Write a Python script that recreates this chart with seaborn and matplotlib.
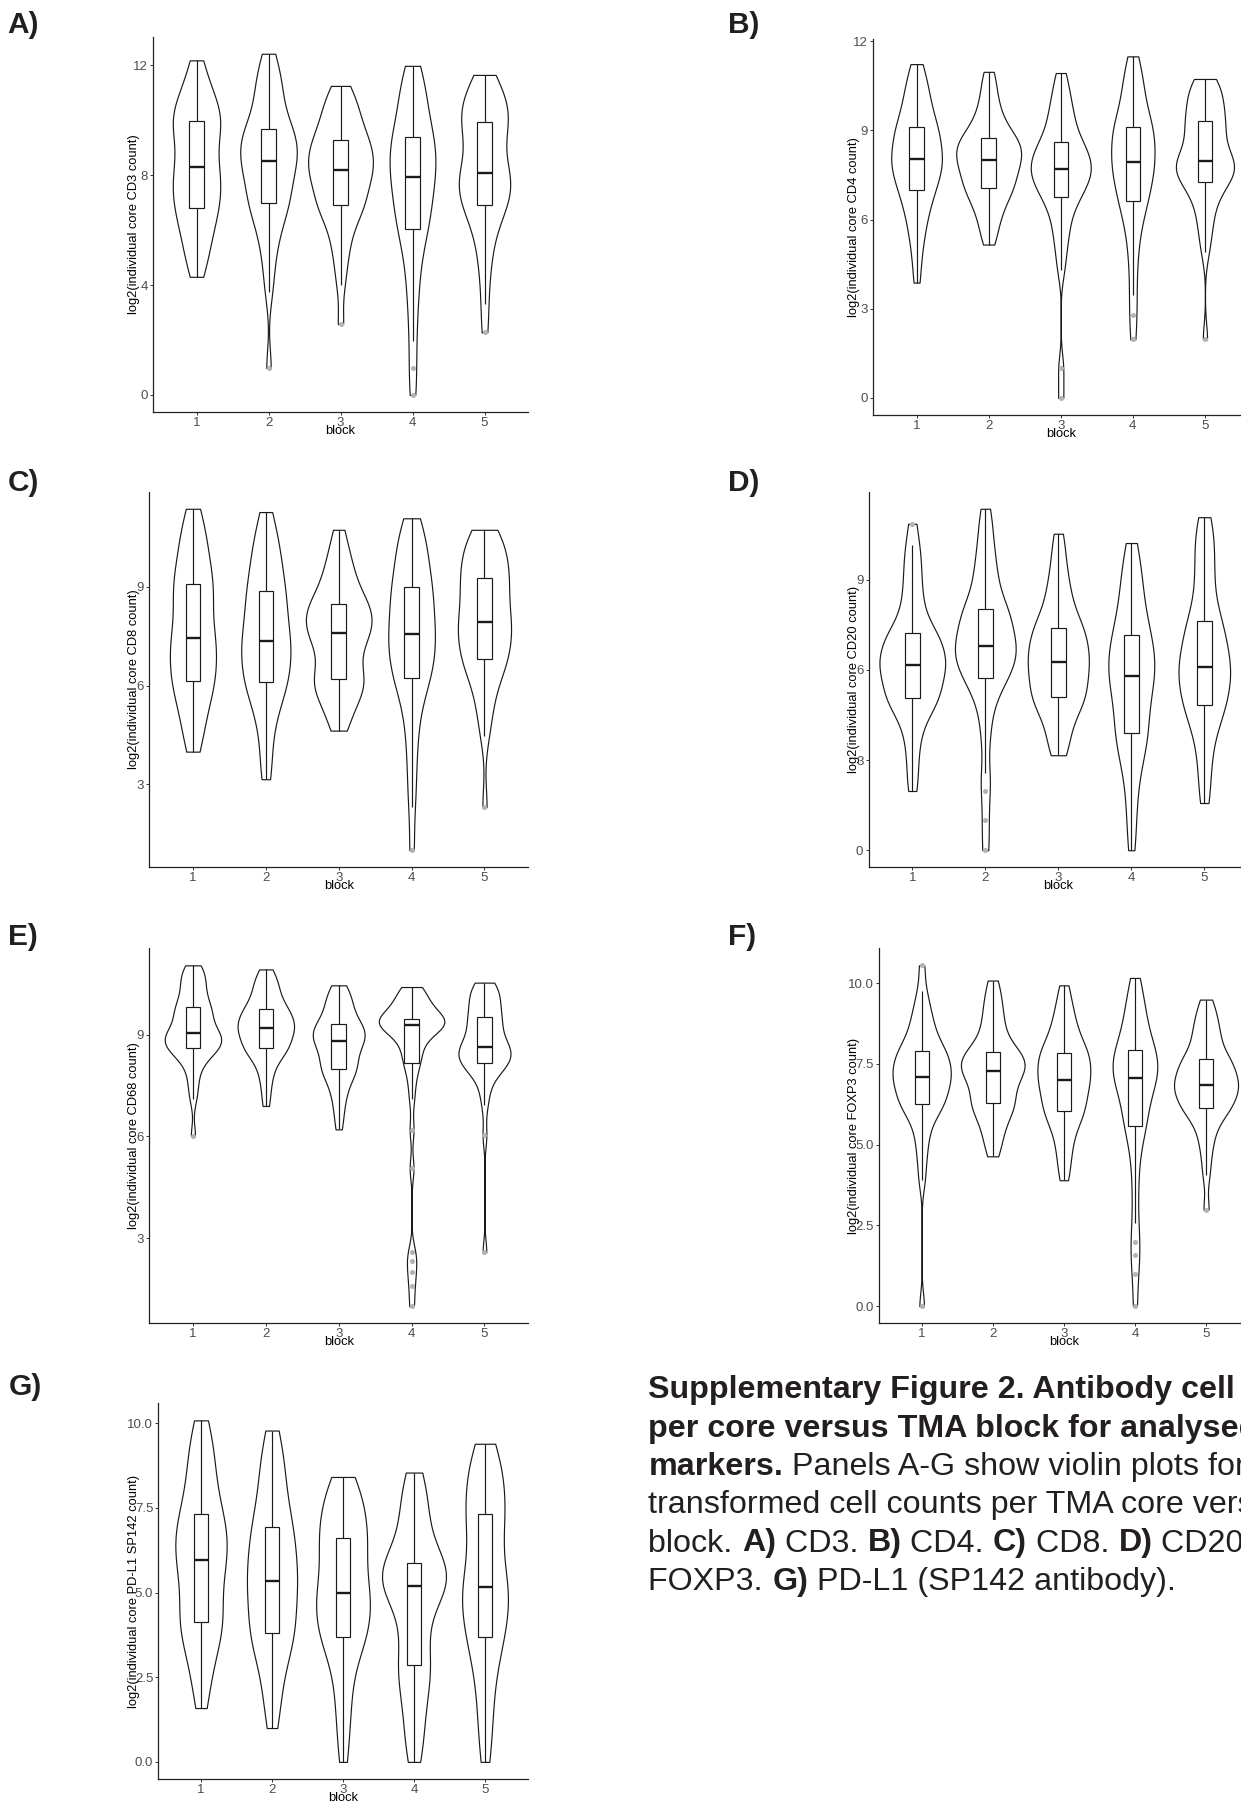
import numpy as np
import pandas as pd
import matplotlib
matplotlib.use("Agg")
import matplotlib.pyplot as plt
import seaborn as sns

BLOCKS = ["1", "2", "3", "4", "5"]

CD3 = [
    [4.3, 4.7, 5.0, 5.3, 5.6, 5.85, 6.05, 6.25, 6.45, 6.65, 6.8, 6.95, 7.1, 7.25, 7.4, 7.55, 7.7, 7.85, 8.0, 8.15, 8.28,
     8.45, 8.65, 8.85, 9.05, 9.25, 9.45, 9.6, 9.75, 9.88, 9.98, 10.1, 10.25, 10.4, 10.55, 10.7, 10.9, 11.1, 11.4, 11.8, 12.18],
    [0.98, 3.73, 4.5, 5.1, 5.55, 5.9, 6.2, 6.48, 6.7, 6.86, 6.98, 7.15, 7.32, 7.49, 7.66, 7.83, 8.0, 8.17, 8.32, 8.43, 8.5,
     8.63, 8.76, 8.89, 9.02, 9.15, 9.28, 9.41, 9.53, 9.61, 9.67, 9.9, 10.15, 10.4, 10.65, 10.9, 11.15, 11.4, 11.7, 12.05, 12.42],
    [2.58, 4.0, 4.7, 5.2, 5.6, 5.95, 6.25, 6.5, 6.7, 6.82, 6.9, 7.05, 7.2, 7.35, 7.5, 7.65, 7.8, 7.95, 8.07, 8.14, 8.18,
     8.3, 8.42, 8.54, 8.66, 8.78, 8.9, 9.02, 9.14, 9.22, 9.27, 9.45, 9.63, 9.8, 9.98, 10.16, 10.35, 10.55, 10.77, 11.0, 11.25],
    [0.0, 0.98, 1.98, 2.9, 3.6, 4.2, 4.7, 5.15, 5.55, 5.85, 6.05, 6.25, 6.45, 6.65, 6.85, 7.05, 7.25, 7.45, 7.65, 7.82, 7.92,
     8.08, 8.24, 8.4, 8.56, 8.72, 8.88, 9.04, 9.2, 9.31, 9.38, 9.6, 9.85, 10.1, 10.35, 10.6, 10.85, 11.1, 11.4, 11.7, 11.98],
    [2.28, 3.3, 4.2, 4.85, 5.35, 5.75, 6.1, 6.4, 6.65, 6.8, 6.9, 7.04, 7.18, 7.32, 7.46, 7.6, 7.73, 7.86, 7.97, 8.04, 8.08,
     8.3, 8.52, 8.74, 8.96, 9.18, 9.4, 9.6, 9.78, 9.9, 9.95, 10.1, 10.25, 10.4, 10.55, 10.7, 10.85, 11.0, 11.2, 11.42, 11.65],
]
CD4 = [
    [3.88, 4.6, 5.1, 5.5, 5.8, 6.05, 6.3, 6.5, 6.7, 6.85, 6.99, 7.12, 7.25, 7.38, 7.5, 7.62, 7.73, 7.83, 7.92, 7.98, 8.03,
     8.15, 8.28, 8.4, 8.52, 8.64, 8.76, 8.88, 8.98, 9.06, 9.12, 9.3, 9.48, 9.65, 9.82, 10.0, 10.2, 10.4, 10.65, 10.95, 11.23],
    [5.16, 5.5, 5.8, 6.05, 6.25, 6.45, 6.6, 6.75, 6.88, 6.98, 7.07, 7.17, 7.27, 7.37, 7.47, 7.57, 7.67, 7.77, 7.86, 7.94, 8.0,
     8.08, 8.16, 8.24, 8.32, 8.4, 8.48, 8.56, 8.64, 8.7, 8.76, 8.88, 9.0, 9.15, 9.3, 9.5, 9.7, 9.95, 10.25, 10.6, 10.97],
    [0.0, 1.0, 4.3, 4.9, 5.3, 5.65, 5.95, 6.2, 6.45, 6.62, 6.76, 6.88, 7.0, 7.1, 7.2, 7.3, 7.4, 7.5, 7.58, 7.64, 7.69,
     7.78, 7.87, 7.96, 8.05, 8.14, 8.23, 8.33, 8.43, 8.53, 8.61, 8.78, 8.95, 9.12, 9.3, 9.5, 9.72, 9.95, 10.2, 10.55, 10.93],
    [1.97, 2.8, 3.45, 4.2, 4.8, 5.3, 5.7, 6.0, 6.25, 6.47, 6.64, 6.8, 6.95, 7.1, 7.25, 7.4, 7.55, 7.68, 7.8, 7.9, 7.95,
     8.08, 8.22, 8.36, 8.5, 8.64, 8.77, 8.9, 9.0, 9.07, 9.12, 9.3, 9.5, 9.7, 9.9, 10.1, 10.35, 10.6, 10.85, 11.15, 11.49],
    [1.97, 4.9, 5.4, 5.8, 6.1, 6.4, 6.65, 6.88, 7.05, 7.18, 7.28, 7.38, 7.47, 7.56, 7.64, 7.72, 7.79, 7.85, 7.9, 7.94, 7.97,
     8.1, 8.25, 8.4, 8.55, 8.7, 8.85, 9.0, 9.12, 9.22, 9.3, 9.45, 9.6, 9.75, 9.9, 10.05, 10.2, 10.35, 10.5, 10.62, 10.73],
]
CD8 = [
    [3.99, 4.3, 4.6, 4.9, 5.15, 5.4, 5.6, 5.8, 5.95, 6.07, 6.15, 6.3, 6.45, 6.6, 6.75, 6.9, 7.05, 7.2, 7.32, 7.4, 7.46,
     7.65, 7.85, 8.05, 8.25, 8.45, 8.62, 8.78, 8.92, 9.02, 9.1, 9.3, 9.5, 9.7, 9.9, 10.1, 10.3, 10.55, 10.8, 11.1, 11.38],
    [3.15, 3.6, 4.2, 4.7, 5.05, 5.35, 5.6, 5.8, 5.95, 6.05, 6.12, 6.27, 6.42, 6.57, 6.72, 6.87, 7.0, 7.13, 7.24, 7.31, 7.36,
     7.53, 7.7, 7.87, 8.04, 8.2, 8.36, 8.52, 8.67, 8.8, 8.88, 9.1, 9.3, 9.5, 9.7, 9.9, 10.1, 10.35, 10.6, 10.9, 11.28],
    [4.63, 4.9, 5.15, 5.4, 5.6, 5.75, 5.88, 6.0, 6.08, 6.14, 6.19, 6.35, 6.52, 6.7, 6.88, 7.05, 7.22, 7.38, 7.5, 7.56, 7.6,
     7.7, 7.8, 7.9, 8.0, 8.1, 8.2, 8.29, 8.37, 8.43, 8.47, 8.62, 8.78, 8.95, 9.12, 9.3, 9.5, 9.72, 9.98, 10.3, 10.74],
    [0.99, 2.32, 3.1, 3.8, 4.4, 4.9, 5.3, 5.65, 5.95, 6.12, 6.24, 6.38, 6.52, 6.67, 6.82, 6.97, 7.12, 7.27, 7.4, 7.5, 7.56,
     7.72, 7.88, 8.04, 8.2, 8.36, 8.52, 8.68, 8.83, 8.93, 9.0, 9.2, 9.4, 9.6, 9.8, 10.0, 10.2, 10.4, 10.6, 10.85, 11.09],
    [2.3, 4.47, 5.0, 5.4, 5.75, 6.05, 6.3, 6.5, 6.65, 6.74, 6.8, 6.94, 7.08, 7.22, 7.36, 7.5, 7.63, 7.76, 7.86, 7.91, 7.94,
     8.1, 8.26, 8.42, 8.58, 8.74, 8.9, 9.04, 9.16, 9.23, 9.28, 9.45, 9.62, 9.78, 9.93, 10.07, 10.2, 10.33, 10.46, 10.6, 10.74],
]
CD20 = [
    [1.97, 2.6, 3.2, 3.7, 4.1, 4.4, 4.65, 4.85, 4.96, 5.02, 5.06, 5.2, 5.34, 5.48, 5.62, 5.76, 5.9, 6.02, 6.1, 6.13, 6.15,
     6.28, 6.4, 6.52, 6.64, 6.76, 6.88, 7.0, 7.1, 7.17, 7.22, 7.45, 7.7, 8.0, 8.3, 8.65, 9.0, 9.4, 9.8, 10.17, 10.86],
    [0.0, 1.0, 1.97, 2.57, 3.6, 4.3, 4.8, 5.15, 5.45, 5.62, 5.74, 5.88, 6.0, 6.12, 6.24, 6.36, 6.48, 6.6, 6.7, 6.75, 6.78,
     6.92, 7.06, 7.2, 7.34, 7.48, 7.62, 7.76, 7.88, 7.96, 8.01, 8.25, 8.5, 8.75, 9.0, 9.3, 9.6, 9.95, 10.35, 10.85, 11.36],
    [3.16, 3.4, 3.7, 4.0, 4.3, 4.55, 4.75, 4.9, 5.0, 5.06, 5.1, 5.24, 5.38, 5.52, 5.66, 5.8, 5.94, 6.07, 6.18, 6.23, 6.26,
     6.39, 6.52, 6.65, 6.78, 6.91, 7.04, 7.17, 7.28, 7.35, 7.39, 7.6, 7.8, 8.0, 8.25, 8.5, 8.8, 9.1, 9.5, 10.0, 10.53],
    [0.0, 0.8, 1.5, 2.1, 2.6, 3.0, 3.3, 3.55, 3.75, 3.85, 3.91, 4.15, 4.4, 4.65, 4.9, 5.1, 5.3, 5.5, 5.65, 5.73, 5.78,
     5.93, 6.08, 6.23, 6.38, 6.53, 6.68, 6.83, 6.98, 7.1, 7.17, 7.45, 7.7, 7.95, 8.2, 8.5, 8.8, 9.1, 9.4, 9.8, 10.22],
    [1.57, 2.1, 2.7, 3.2, 3.6, 3.95, 4.25, 4.5, 4.68, 4.78, 4.84, 5.0, 5.16, 5.32, 5.48, 5.64, 5.8, 5.94, 6.04, 6.07, 6.09,
     6.26, 6.43, 6.6, 6.77, 6.94, 7.11, 7.28, 7.44, 7.56, 7.62, 7.95, 8.3, 8.65, 9.0, 9.35, 9.7, 10.05, 10.4, 10.75, 11.08],
]
CD68 = [
    [6.02, 7.11, 7.45, 7.75, 8.0, 8.2, 8.33, 8.43, 8.5, 8.56, 8.6, 8.65, 8.7, 8.75, 8.8, 8.85, 8.9, 8.95, 8.99, 9.02, 9.04,
     9.13, 9.22, 9.31, 9.4, 9.49, 9.58, 9.67, 9.74, 9.79, 9.82, 9.95, 10.08, 10.2, 10.32, 10.45, 10.58, 10.7, 10.82, 10.94, 11.05],
    [6.9, 7.3, 7.6, 7.85, 8.05, 8.2, 8.33, 8.44, 8.52, 8.57, 8.6, 8.67, 8.74, 8.81, 8.88, 8.95, 9.02, 9.09, 9.14, 9.17, 9.19,
     9.25, 9.31, 9.37, 9.43, 9.49, 9.55, 9.61, 9.67, 9.72, 9.75, 9.85, 9.95, 10.05, 10.15, 10.26, 10.38, 10.5, 10.63, 10.77, 10.93],
    [6.21, 6.6, 6.9, 7.15, 7.35, 7.52, 7.67, 7.8, 7.9, 7.96, 7.99, 8.08, 8.17, 8.26, 8.35, 8.44, 8.53, 8.62, 8.71, 8.78, 8.82,
     8.87, 8.92, 8.97, 9.02, 9.07, 9.12, 9.18, 9.24, 9.28, 9.31, 9.42, 9.53, 9.64, 9.75, 9.86, 9.97, 10.08, 10.2, 10.33, 10.46],
    [0.99, 1.58, 2.0, 2.33, 2.6, 5.06, 6.2, 7.11, 7.6, 7.95, 8.16, 8.3, 8.45, 8.6, 8.75, 8.9, 9.02, 9.12, 9.2, 9.26, 9.3,
     9.32, 9.34, 9.36, 9.38, 9.4, 9.42, 9.43, 9.44, 9.45, 9.46, 9.58, 9.7, 9.8, 9.9, 10.0, 10.08, 10.16, 10.24, 10.33, 10.41],
    [2.58, 6.03, 6.92, 7.3, 7.6, 7.8, 7.95, 8.05, 8.1, 8.14, 8.16, 8.22, 8.28, 8.34, 8.4, 8.46, 8.52, 8.57, 8.61, 8.63, 8.65,
     8.75, 8.85, 8.95, 9.05, 9.15, 9.25, 9.35, 9.44, 9.5, 9.54, 9.66, 9.78, 9.9, 10.0, 10.1, 10.2, 10.3, 10.38, 10.46, 10.54],
]
FOXP3 = [
    [0.0, 3.9, 4.5, 4.95, 5.3, 5.6, 5.85, 6.02, 6.15, 6.22, 6.27, 6.37, 6.47, 6.57, 6.67, 6.77, 6.87, 6.97, 7.05, 7.09, 7.11,
     7.2, 7.29, 7.38, 7.47, 7.56, 7.65, 7.74, 7.82, 7.87, 7.9, 8.05, 8.2, 8.35, 8.5, 8.7, 8.9, 9.1, 9.4, 9.77, 10.55],
    [4.64, 4.95, 5.2, 5.42, 5.62, 5.8, 5.95, 6.08, 6.18, 6.25, 6.29, 6.41, 6.53, 6.65, 6.77, 6.89, 7.0, 7.11, 7.2, 7.25, 7.27,
     7.34, 7.41, 7.48, 7.55, 7.62, 7.69, 7.76, 7.82, 7.86, 7.88, 8.05, 8.22, 8.4, 8.58, 8.78, 9.0, 9.22, 9.46, 9.75, 10.08],
    [3.9, 4.3, 4.65, 4.95, 5.2, 5.45, 5.65, 5.82, 5.95, 6.01, 6.05, 6.17, 6.29, 6.41, 6.53, 6.65, 6.77, 6.88, 6.96, 6.99, 7.01,
     7.12, 7.23, 7.34, 7.45, 7.55, 7.65, 7.74, 7.8, 7.83, 7.85, 8.0, 8.15, 8.3, 8.45, 8.62, 8.8, 9.0, 9.25, 9.55, 9.93],
    [0.0, 1.0, 1.58, 1.99, 2.58, 3.4, 4.1, 4.7, 5.15, 5.42, 5.58, 5.76, 5.94, 6.12, 6.3, 6.48, 6.66, 6.84, 6.97, 7.03, 7.05,
     7.15, 7.25, 7.35, 7.45, 7.55, 7.65, 7.75, 7.85, 7.91, 7.94, 8.12, 8.3, 8.48, 8.66, 8.85, 9.05, 9.28, 9.52, 9.8, 10.16],
    [2.99, 4.05, 4.6, 5.0, 5.3, 5.55, 5.75, 5.92, 6.05, 6.11, 6.15, 6.24, 6.33, 6.42, 6.51, 6.6, 6.68, 6.76, 6.82, 6.85, 6.86,
     6.95, 7.04, 7.13, 7.22, 7.31, 7.4, 7.49, 7.56, 7.61, 7.64, 7.8, 7.96, 8.12, 8.28, 8.44, 8.6, 8.78, 8.98, 9.22, 9.49],
]
PDL1 = [
    [1.59, 2.05, 2.5, 2.85, 3.15, 3.4, 3.62, 3.82, 3.98, 4.07, 4.14, 4.34, 4.54, 4.74, 4.94, 5.14, 5.34, 5.54, 5.74, 5.88, 5.96,
     6.1, 6.24, 6.38, 6.52, 6.66, 6.8, 6.95, 7.1, 7.22, 7.31, 7.55, 7.8, 8.05, 8.3, 8.55, 8.8, 9.1, 9.4, 9.7, 10.08],
    [1.0, 1.5, 1.95, 2.35, 2.7, 3.0, 3.25, 3.48, 3.65, 3.74, 3.8, 3.98, 4.16, 4.34, 4.52, 4.7, 4.88, 5.06, 5.22, 5.31, 5.35,
     5.52, 5.69, 5.86, 6.03, 6.2, 6.37, 6.54, 6.71, 6.84, 6.92, 7.15, 7.4, 7.65, 7.9, 8.15, 8.45, 8.75, 9.05, 9.4, 9.78],
    [0.0, 0.75, 1.3, 1.8, 2.25, 2.65, 3.0, 3.3, 3.52, 3.64, 3.7, 3.85, 4.0, 4.15, 4.3, 4.45, 4.6, 4.75, 4.88, 4.95, 4.98,
     5.17, 5.36, 5.55, 5.74, 5.93, 6.12, 6.3, 6.46, 6.56, 6.62, 6.8, 6.98, 7.15, 7.32, 7.5, 7.67, 7.85, 8.03, 8.22, 8.41],
    [0.0, 0.35, 0.75, 1.15, 1.5, 1.85, 2.15, 2.45, 2.65, 2.78, 2.85, 3.15, 3.45, 3.75, 4.05, 4.35, 4.65, 4.9, 5.08, 5.16, 5.2,
     5.27, 5.34, 5.41, 5.48, 5.55, 5.62, 5.7, 5.77, 5.82, 5.86, 6.14, 6.42, 6.7, 6.96, 7.22, 7.48, 7.74, 8.0, 8.27, 8.54],
    [0.0, 0.6, 1.15, 1.65, 2.1, 2.5, 2.85, 3.2, 3.5, 3.62, 3.7, 3.9, 4.1, 4.3, 4.5, 4.68, 4.84, 4.98, 5.08, 5.13, 5.15,
     5.4, 5.65, 5.9, 6.15, 6.4, 6.65, 6.9, 7.12, 7.26, 7.33, 7.55, 7.75, 7.95, 8.15, 8.35, 8.55, 8.75, 8.95, 9.17, 9.39],
]

MARKERS = ["CD3", "CD4", "CD8", "CD20", "CD68", "FOXP3", "PD-L1 SP142"]
LETTERS = ["A)", "B)", "C)", "D)", "E)", "F)", "G)"]
YTICKS = [[0, 4, 8, 12], [0, 3, 6, 9, 12], [3, 6, 9], [0, 3, 6, 9], [3, 6, 9],
          [0, 2.5, 5, 7.5, 10], [0, 2.5, 5, 7.5, 10]]
YTICKLABELS = [["0", "4", "8", "12"], ["0", "3", "6", "9", "12"], ["3", "6", "9"], ["0", "3", "6", "9"],
               ["3", "6", "9"], ["0.0", "2.5", "5.0", "7.5", "10.0"], ["0.0", "2.5", "5.0", "7.5", "10.0"]]
XLABEL = "block"

CAPTION = [
    [("Supplementary Figure 2. Antibody cell counts", True)],
    [("per core versus TMA block for analysed", True)],
    [("markers.", True), (" Panels A-G show violin plots for log2", False)],
    [("transformed cell counts per TMA core versus TMA", False)],
    [("block. ", False), ("A)", True), (" CD3. ", False), ("B)", True), (" CD4. ", False), ("C)", True),
     (" CD8. ", False), ("D)", True), (" CD20. ", False), ("E)", True), (" CD68. ", False), ("F)", True)],
    [("FOXP3. ", False), ("G)", True), (" PD-L1 (SP142 antibody).", False)],
]

DATA = [CD3, CD4, CD8, CD20, CD68, FOXP3, PDL1]

sns.set_theme(style="ticks")
plt.rcParams["font.family"] = ["Liberation Sans", "DejaVu Sans"]

W, H = 1241, 1804
fig = plt.figure(figsize=(W / 100, H / 100), dpi=100)
fig.patch.set_facecolor("white")

# left, top, width, bottom, ylabel-x, letter-x, letter-baseline (pixels)
LAYOUT = [
    (153.3, 36.7, 374.4, 412.0, 134, 7.3, 33.3),
    (873.3, 39.3, 374.9, 415.0, 854, 728.3, 33.3),
    (149.2, 491.7, 379.0, 867.3, 134, 7.9, 491.0),
    (868.5, 491.7, 379.6, 867.3, 854, 727.7, 491.0),
    (149.2, 948.3, 379.0, 1323.3, 134, 7.9, 945.0),
    (879.0, 948.3, 369.7, 1323.3, 854, 728.3, 945.0),
    (158.4, 1403.3, 369.2, 1779.0, 134, 8.3, 1395.0),
]

LINE = "#1a1a1a"


def nrd0(kde):
    x = np.asarray(kde.dataset).ravel()
    sd = x.std(ddof=1)
    q1, q3 = np.percentile(x, [25, 75])
    h = 0.9 * min(sd, (q3 - q1) / 1.34) * x.size ** -0.2
    return h / sd


for i, vals in enumerate(DATA):
    left, top, width, bottom, labx, letx, letb = LAYOUT[i]
    height = bottom - top
    ax = fig.add_axes([left / W, 1 - bottom / H, width / W, height / H])
    df = pd.DataFrame({
        "block": np.repeat(BLOCKS, [len(v) for v in vals]),
        "value": np.concatenate([np.asarray(v, float) for v in vals]),
    })
    sns.violinplot(data=df, x="block", y="value", order=BLOCKS, ax=ax, cut=0, inner=None,
                   width=0.9, density_norm="area", color="white", linecolor=LINE,
                   linewidth=0.85, bw_method=nrd0, bw_adjust=0.8, saturation=1)
    sns.boxplot(data=df, x="block", y="value", order=BLOCKS, ax=ax, width=0.2, color="white",
                linecolor=LINE, linewidth=0.85, saturation=1, fliersize=2.6, showcaps=False,
                flierprops=dict(marker="o", markerfacecolor="#b3b3b3", markeredgecolor="#b3b3b3"),
                medianprops=dict(linewidth=1.7, color=LINE))
    lo, hi = df["value"].min(), df["value"].max()
    pad = 0.05 * (hi - lo)
    ax.set_ylim(lo - pad, hi + pad)
    ax.set_xlim(-0.6, 4.6)
    ax.set_yticks(YTICKS[i], YTICKLABELS[i])
    for s in ["top", "right"]:
        ax.spines[s].set_visible(False)
    for s in ["left", "bottom"]:
        ax.spines[s].set_linewidth(0.9)
        ax.spines[s].set_color("#222222")
    ax.tick_params(axis="both", length=2.5, width=0.7, color="#333333", labelsize=9.5,
                   labelcolor="#4d4d4d", pad=1.2)
    ax.set_ylabel(f"log2(individual core {MARKERS[i]} count)", fontsize=9.3, color="black")
    ax.yaxis.set_label_coords((labx - left) / width, 0.5)
    ax.yaxis.label.set_va("center")
    ax.set_xlabel(XLABEL, fontsize=9.3, color="black")
    ax.xaxis.set_label_coords(0.5, -18.8 / height)
    ax.xaxis.label.set_va("center")
    ax.grid(False)
    fig.text(letx / W, 1 - letb / H, LETTERS[i], fontsize=21.5, fontweight="bold",
             color="#231f20", ha="left", va="baseline")

# caption
renderer = fig.canvas.get_renderer()
CAP_FS = 23.2


def seg_width(s, bold):
    kw = dict(fontsize=CAP_FS, fontweight="bold" if bold else "normal")
    t1 = fig.text(0, 0, "|" + s + "|", **kw)
    t2 = fig.text(0, 0, "||", **kw)
    w = t1.get_window_extent(renderer).width - t2.get_window_extent(renderer).width
    t1.remove()
    t2.remove()
    return w


x0 = 648.5
base0 = 1398.3
step = 38.3
for li, segs in enumerate(CAPTION):
    x = x0
    yb = base0 + li * step
    for s, bold in segs:
        fig.text(x / W, 1 - yb / H, s, fontsize=CAP_FS, fontweight="bold" if bold else "normal",
                 color="#231f20", ha="left", va="baseline")
        x += seg_width(s, bold)

fig.savefig("out.png", dpi=100, facecolor="white")
